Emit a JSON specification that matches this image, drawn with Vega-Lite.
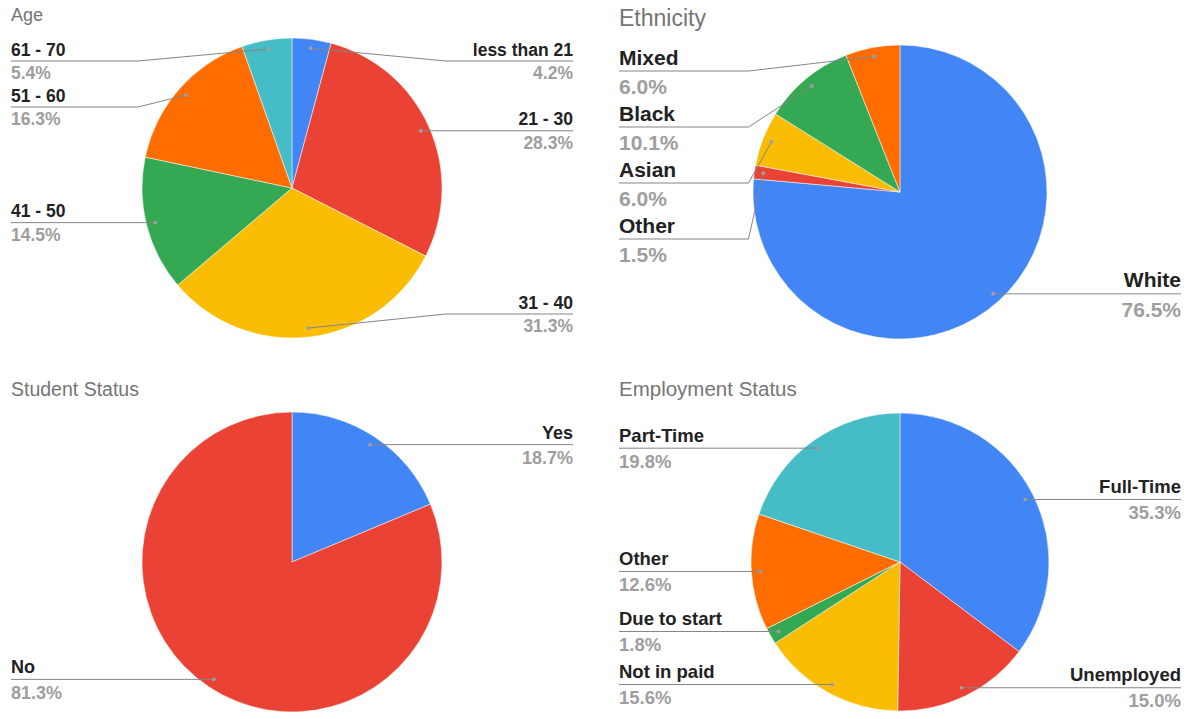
{
  "$schema": "https://vega.github.io/schema/vega-lite/v6.json",
  "padding": {"left": 10, "top": 6, "right": 10, "bottom": 5},
  "background": "#ffffff",
  "config": {
    "view": {"stroke": null},
    "title": {"anchor": "start", "frame": "group", "font": "Liberation Sans", "fontWeight": "normal", "color": "#757575"},
    "text": {"font": "Liberation Sans"}
  },
  "resolve": {"scale": {"color": "independent"}},
  "columns": 2,
  "spacing": {"row": 74, "column": 46},
  "bounds": "flush",
  "concat": [
    {
      "width": 562, "height": 300,
      "title": {"text": "Age", "fontSize": 18, "offset": 12.2},
      "data": {"values": [
        {"label": "less than 21", "value": 4.2},
        {"label": "21 - 30", "value": 28.3},
        {"label": "31 - 40", "value": 31.3},
        {"label": "41 - 50", "value": 14.5},
        {"label": "51 - 60", "value": 16.3},
        {"label": "61 - 70", "value": 5.4}
      ]},
      "transform": [
        {"window": [{"op": "row_number", "as": "idx"}]},
        {"joinaggregate": [{"op": "sum", "field": "value", "as": "total"}]},
        {"window": [{"op": "sum", "field": "value", "as": "cum"}], "sort": [{"field": "idx"}], "frame": [null, 0]},
        {"calculate": "2*PI*(datum.cum - datum.value/2)/datum.total", "as": "mid"},
        {"calculate": "141*sin(datum.mid)", "as": "px"},
        {"calculate": "141*cos(datum.mid)", "as": "py"},
        {"calculate": "datum.mid < PI ? 'right' : 'left'", "as": "side"},
        {"window": [{"op": "row_number", "as": "k"}], "groupby": ["side"], "sort": [{"field": "py", "order": "descending"}]},
        {"calculate": "min(datum.py, 127) + (datum.k - 1)*46", "as": "a"},
        {"window": [{"op": "min", "field": "a", "as": "m"}], "groupby": ["side"], "sort": [{"field": "py", "order": "descending"}], "frame": [null, 0]},
        {"calculate": "max(datum.m - (datum.k - 1)*46, -126)", "as": "ly"},
        {"calculate": "datum.side == 'right' ? 281 : -281", "as": "tx"},
        {"calculate": "datum.side == 'right' ? 154 : -154", "as": "ex"},
        {"calculate": "format(datum.value, '.1f') + '%'", "as": "pct"}
      ],
      "layer": [
        {
          "mark": {"type": "arc", "outerRadius": 150, "stroke": "#ffffff", "strokeWidth": 0.5},
          "encoding": {
            "theta": {"field": "value", "type": "quantitative", "stack": true},
            "order": {"field": "idx", "type": "quantitative"},
            "color": {"field": "label", "type": "nominal", "legend": null,
              "scale": {"domain": ["less than 21", "21 - 30", "31 - 40", "41 - 50", "51 - 60", "61 - 70"],
                        "range": ["#4285f4", "#ea4335", "#fbbc04", "#34a853", "#ff6d01", "#46bdc6"]}},
            "x": {"datum": 0, "type": "quantitative", "scale": {"domain": [-281, 281], "nice": false, "zero": false}, "axis": null},
            "y": {"datum": 0, "type": "quantitative", "scale": {"domain": [-150, 150], "nice": false, "zero": false}, "axis": null}
          }
        },
        {
          "mark": {"type": "rule", "color": "#858585", "strokeWidth": 1},
          "encoding": {
            "x": {"field": "px", "type": "quantitative", "scale": {"domain": [-281, 281], "nice": false, "zero": false}, "axis": null},
            "y": {"field": "py", "type": "quantitative", "scale": {"domain": [-150, 150], "nice": false, "zero": false}, "axis": null},
            "x2": {"field": "ex"},
            "y2": {"field": "ly"}
          }
        },
        {
          "mark": {"type": "rule", "color": "#858585", "strokeWidth": 1},
          "encoding": {
            "x": {"field": "ex", "type": "quantitative", "scale": {"domain": [-281, 281], "nice": false, "zero": false}, "axis": null},
            "x2": {"field": "tx"},
            "y": {"field": "ly", "type": "quantitative", "scale": {"domain": [-150, 150], "nice": false, "zero": false}, "axis": null}
          }
        },
        {
          "mark": {"type": "circle", "size": 14, "color": "#9e9e9e", "opacity": 1},
          "encoding": {
            "x": {"field": "px", "type": "quantitative", "scale": {"domain": [-281, 281], "nice": false, "zero": false}, "axis": null},
            "y": {"field": "py", "type": "quantitative", "scale": {"domain": [-150, 150], "nice": false, "zero": false}, "axis": null}
          }
        },
        {
          "transform": [{"filter": "datum.side == 'left'"}],
          "mark": {"type": "text", "align": "left", "baseline": "alphabetic", "dy": -5.5, "fontSize": 17.5, "fontWeight": "bold", "color": "#222222"},
          "encoding": {
            "x": {"field": "tx", "type": "quantitative", "scale": {"domain": [-281, 281], "nice": false, "zero": false}, "axis": null},
            "y": {"field": "ly", "type": "quantitative", "scale": {"domain": [-150, 150], "nice": false, "zero": false}, "axis": null},
            "text": {"field": "label"}
          }
        },
        {
          "transform": [{"filter": "datum.side == 'right'"}],
          "mark": {"type": "text", "align": "right", "baseline": "alphabetic", "dy": -5.5, "fontSize": 17.5, "fontWeight": "bold", "color": "#222222"},
          "encoding": {
            "x": {"field": "tx", "type": "quantitative", "scale": {"domain": [-281, 281], "nice": false, "zero": false}, "axis": null},
            "y": {"field": "ly", "type": "quantitative", "scale": {"domain": [-150, 150], "nice": false, "zero": false}, "axis": null},
            "text": {"field": "label"}
          }
        },
        {
          "transform": [{"filter": "datum.side == 'left'"}],
          "mark": {"type": "text", "align": "left", "baseline": "alphabetic", "dy": 18.3, "fontSize": 17.5, "fontWeight": "bold", "color": "#9e9e9e"},
          "encoding": {
            "x": {"field": "tx", "type": "quantitative", "scale": {"domain": [-281, 281], "nice": false, "zero": false}, "axis": null},
            "y": {"field": "ly", "type": "quantitative", "scale": {"domain": [-150, 150], "nice": false, "zero": false}, "axis": null},
            "text": {"field": "pct"}
          }
        },
        {
          "transform": [{"filter": "datum.side == 'right'"}],
          "mark": {"type": "text", "align": "right", "baseline": "alphabetic", "dy": 18.3, "fontSize": 17.5, "fontWeight": "bold", "color": "#9e9e9e"},
          "encoding": {
            "x": {"field": "tx", "type": "quantitative", "scale": {"domain": [-281, 281], "nice": false, "zero": false}, "axis": null},
            "y": {"field": "ly", "type": "quantitative", "scale": {"domain": [-150, 150], "nice": false, "zero": false}, "axis": null},
            "text": {"field": "pct"}
          }
        }
      ]
    },
    {
      "width": 562, "height": 300,
      "title": {"text": "Ethnicity", "fontSize": 23, "offset": 7.5},
      "data": {"values": [
        {"label": "White", "value": 76.5},
        {"label": "Other", "value": 1.5},
        {"label": "Asian", "value": 6.0},
        {"label": "Black", "value": 10.1},
        {"label": "Mixed", "value": 6.0}
      ]},
      "transform": [
        {"window": [{"op": "row_number", "as": "idx"}]},
        {"joinaggregate": [{"op": "sum", "field": "value", "as": "total"}]},
        {"window": [{"op": "sum", "field": "value", "as": "cum"}], "sort": [{"field": "idx"}], "frame": [null, 0]},
        {"calculate": "2*PI*(datum.cum - datum.value/2)/datum.total", "as": "mid"},
        {"calculate": "138*sin(datum.mid)", "as": "px"},
        {"calculate": "138*cos(datum.mid)", "as": "py"},
        {"calculate": "datum.mid < PI ? 'right' : 'left'", "as": "side"},
        {"window": [{"op": "row_number", "as": "k"}], "groupby": ["side"], "sort": [{"field": "py", "order": "descending"}]},
        {"calculate": "min(datum.py, 121) + (datum.k - 1)*56", "as": "a"},
        {"window": [{"op": "min", "field": "a", "as": "m"}], "groupby": ["side"], "sort": [{"field": "py", "order": "descending"}], "frame": [null, 0]},
        {"calculate": "max(datum.m - (datum.k - 1)*56, -125)", "as": "ly"},
        {"calculate": "datum.side == 'right' ? 281 : -281", "as": "tx"},
        {"calculate": "datum.side == 'right' ? 151.5 : -151.5", "as": "ex"},
        {"calculate": "format(datum.value, '.1f') + '%'", "as": "pct"}
      ],
      "layer": [
        {
          "mark": {"type": "arc", "outerRadius": 147, "stroke": "#ffffff", "strokeWidth": 0.5},
          "encoding": {
            "theta": {"field": "value", "type": "quantitative", "stack": true},
            "order": {"field": "idx", "type": "quantitative"},
            "color": {"field": "label", "type": "nominal", "legend": null,
              "scale": {"domain": ["White", "Other", "Asian", "Black", "Mixed"],
                        "range": ["#4285f4", "#ea4335", "#fbbc04", "#34a853", "#ff6d01"]}},
            "x": {"datum": 0, "type": "quantitative", "scale": {"domain": [-281, 281], "nice": false, "zero": false}, "axis": null},
            "y": {"datum": 0, "type": "quantitative", "scale": {"domain": [-146, 154], "nice": false, "zero": false}, "axis": null}
          }
        },
        {
          "mark": {"type": "rule", "color": "#858585", "strokeWidth": 1},
          "encoding": {
            "x": {"field": "px", "type": "quantitative", "scale": {"domain": [-281, 281], "nice": false, "zero": false}, "axis": null},
            "y": {"field": "py", "type": "quantitative", "scale": {"domain": [-146, 154], "nice": false, "zero": false}, "axis": null},
            "x2": {"field": "ex"},
            "y2": {"field": "ly"}
          }
        },
        {
          "mark": {"type": "rule", "color": "#858585", "strokeWidth": 1},
          "encoding": {
            "x": {"field": "ex", "type": "quantitative", "scale": {"domain": [-281, 281], "nice": false, "zero": false}, "axis": null},
            "x2": {"field": "tx"},
            "y": {"field": "ly", "type": "quantitative", "scale": {"domain": [-146, 154], "nice": false, "zero": false}, "axis": null}
          }
        },
        {
          "mark": {"type": "circle", "size": 16, "color": "#9e9e9e", "opacity": 1},
          "encoding": {
            "x": {"field": "px", "type": "quantitative", "scale": {"domain": [-281, 281], "nice": false, "zero": false}, "axis": null},
            "y": {"field": "py", "type": "quantitative", "scale": {"domain": [-146, 154], "nice": false, "zero": false}, "axis": null}
          }
        },
        {
          "transform": [{"filter": "datum.side == 'left'"}],
          "mark": {"type": "text", "align": "left", "baseline": "alphabetic", "dy": -6.5, "fontSize": 21, "fontWeight": "bold", "color": "#222222"},
          "encoding": {
            "x": {"field": "tx", "type": "quantitative", "scale": {"domain": [-281, 281], "nice": false, "zero": false}, "axis": null},
            "y": {"field": "ly", "type": "quantitative", "scale": {"domain": [-146, 154], "nice": false, "zero": false}, "axis": null},
            "text": {"field": "label"}
          }
        },
        {
          "transform": [{"filter": "datum.side == 'right'"}],
          "mark": {"type": "text", "align": "right", "baseline": "alphabetic", "dy": -6.5, "fontSize": 21, "fontWeight": "bold", "color": "#222222"},
          "encoding": {
            "x": {"field": "tx", "type": "quantitative", "scale": {"domain": [-281, 281], "nice": false, "zero": false}, "axis": null},
            "y": {"field": "ly", "type": "quantitative", "scale": {"domain": [-146, 154], "nice": false, "zero": false}, "axis": null},
            "text": {"field": "label"}
          }
        },
        {
          "transform": [{"filter": "datum.side == 'left'"}],
          "mark": {"type": "text", "align": "left", "baseline": "alphabetic", "dy": 23.3, "fontSize": 21, "fontWeight": "bold", "color": "#9e9e9e"},
          "encoding": {
            "x": {"field": "tx", "type": "quantitative", "scale": {"domain": [-281, 281], "nice": false, "zero": false}, "axis": null},
            "y": {"field": "ly", "type": "quantitative", "scale": {"domain": [-146, 154], "nice": false, "zero": false}, "axis": null},
            "text": {"field": "pct"}
          }
        },
        {
          "transform": [{"filter": "datum.side == 'right'"}],
          "mark": {"type": "text", "align": "right", "baseline": "alphabetic", "dy": 23.3, "fontSize": 21, "fontWeight": "bold", "color": "#9e9e9e"},
          "encoding": {
            "x": {"field": "tx", "type": "quantitative", "scale": {"domain": [-281, 281], "nice": false, "zero": false}, "axis": null},
            "y": {"field": "ly", "type": "quantitative", "scale": {"domain": [-146, 154], "nice": false, "zero": false}, "axis": null},
            "text": {"field": "pct"}
          }
        }
      ]
    },
    {
      "width": 562, "height": 300,
      "title": {"text": "Student Status", "fontSize": 19.5, "offset": 11},
      "data": {"values": [
        {"label": "Yes", "value": 18.7},
        {"label": "No", "value": 81.3}
      ]},
      "transform": [
        {"window": [{"op": "row_number", "as": "idx"}]},
        {"joinaggregate": [{"op": "sum", "field": "value", "as": "total"}]},
        {"window": [{"op": "sum", "field": "value", "as": "cum"}], "sort": [{"field": "idx"}], "frame": [null, 0]},
        {"calculate": "2*PI*(datum.cum - datum.value/2)/datum.total", "as": "mid"},
        {"calculate": "141*sin(datum.mid)", "as": "px"},
        {"calculate": "141*cos(datum.mid)", "as": "py"},
        {"calculate": "datum.mid < PI ? 'right' : 'left'", "as": "side"},
        {"window": [{"op": "row_number", "as": "k"}], "groupby": ["side"], "sort": [{"field": "py", "order": "descending"}]},
        {"calculate": "min(datum.py, 127) + (datum.k - 1)*47", "as": "a"},
        {"window": [{"op": "min", "field": "a", "as": "m"}], "groupby": ["side"], "sort": [{"field": "py", "order": "descending"}], "frame": [null, 0]},
        {"calculate": "max(datum.m - (datum.k - 1)*47, -126)", "as": "ly"},
        {"calculate": "datum.side == 'right' ? 281 : -281", "as": "tx"},
        {"calculate": "datum.side == 'right' ? 154 : -154", "as": "ex"},
        {"calculate": "format(datum.value, '.1f') + '%'", "as": "pct"}
      ],
      "layer": [
        {
          "mark": {"type": "arc", "outerRadius": 150, "stroke": "#ffffff", "strokeWidth": 0.5},
          "encoding": {
            "theta": {"field": "value", "type": "quantitative", "stack": true},
            "order": {"field": "idx", "type": "quantitative"},
            "color": {"field": "label", "type": "nominal", "legend": null,
              "scale": {"domain": ["Yes", "No"], "range": ["#4285f4", "#ea4335"]}},
            "x": {"datum": 0, "type": "quantitative", "scale": {"domain": [-281, 281], "nice": false, "zero": false}, "axis": null},
            "y": {"datum": 0, "type": "quantitative", "scale": {"domain": [-150, 150], "nice": false, "zero": false}, "axis": null}
          }
        },
        {
          "mark": {"type": "rule", "color": "#858585", "strokeWidth": 1},
          "encoding": {
            "x": {"field": "px", "type": "quantitative", "scale": {"domain": [-281, 281], "nice": false, "zero": false}, "axis": null},
            "y": {"field": "py", "type": "quantitative", "scale": {"domain": [-150, 150], "nice": false, "zero": false}, "axis": null},
            "x2": {"field": "ex"},
            "y2": {"field": "ly"}
          }
        },
        {
          "mark": {"type": "rule", "color": "#858585", "strokeWidth": 1},
          "encoding": {
            "x": {"field": "ex", "type": "quantitative", "scale": {"domain": [-281, 281], "nice": false, "zero": false}, "axis": null},
            "x2": {"field": "tx"},
            "y": {"field": "ly", "type": "quantitative", "scale": {"domain": [-150, 150], "nice": false, "zero": false}, "axis": null}
          }
        },
        {
          "mark": {"type": "circle", "size": 14, "color": "#9e9e9e", "opacity": 1},
          "encoding": {
            "x": {"field": "px", "type": "quantitative", "scale": {"domain": [-281, 281], "nice": false, "zero": false}, "axis": null},
            "y": {"field": "py", "type": "quantitative", "scale": {"domain": [-150, 150], "nice": false, "zero": false}, "axis": null}
          }
        },
        {
          "transform": [{"filter": "datum.side == 'left'"}],
          "mark": {"type": "text", "align": "left", "baseline": "alphabetic", "dy": -6, "fontSize": 18, "fontWeight": "bold", "color": "#222222"},
          "encoding": {
            "x": {"field": "tx", "type": "quantitative", "scale": {"domain": [-281, 281], "nice": false, "zero": false}, "axis": null},
            "y": {"field": "ly", "type": "quantitative", "scale": {"domain": [-150, 150], "nice": false, "zero": false}, "axis": null},
            "text": {"field": "label"}
          }
        },
        {
          "transform": [{"filter": "datum.side == 'right'"}],
          "mark": {"type": "text", "align": "right", "baseline": "alphabetic", "dy": -6, "fontSize": 18, "fontWeight": "bold", "color": "#222222"},
          "encoding": {
            "x": {"field": "tx", "type": "quantitative", "scale": {"domain": [-281, 281], "nice": false, "zero": false}, "axis": null},
            "y": {"field": "ly", "type": "quantitative", "scale": {"domain": [-150, 150], "nice": false, "zero": false}, "axis": null},
            "text": {"field": "label"}
          }
        },
        {
          "transform": [{"filter": "datum.side == 'left'"}],
          "mark": {"type": "text", "align": "left", "baseline": "alphabetic", "dy": 19.5, "fontSize": 18, "fontWeight": "bold", "color": "#9e9e9e"},
          "encoding": {
            "x": {"field": "tx", "type": "quantitative", "scale": {"domain": [-281, 281], "nice": false, "zero": false}, "axis": null},
            "y": {"field": "ly", "type": "quantitative", "scale": {"domain": [-150, 150], "nice": false, "zero": false}, "axis": null},
            "text": {"field": "pct"}
          }
        },
        {
          "transform": [{"filter": "datum.side == 'right'"}],
          "mark": {"type": "text", "align": "right", "baseline": "alphabetic", "dy": 19.5, "fontSize": 18, "fontWeight": "bold", "color": "#9e9e9e"},
          "encoding": {
            "x": {"field": "tx", "type": "quantitative", "scale": {"domain": [-281, 281], "nice": false, "zero": false}, "axis": null},
            "y": {"field": "ly", "type": "quantitative", "scale": {"domain": [-150, 150], "nice": false, "zero": false}, "axis": null},
            "text": {"field": "pct"}
          }
        }
      ]
    },
    {
      "width": 562, "height": 300,
      "title": {"text": "Employment Status", "fontSize": 20.5, "offset": 12},
      "data": {"values": [
        {"label": "Full-Time", "value": 35.3},
        {"label": "Unemployed", "value": 15.0},
        {"label": "Not in paid", "value": 15.6},
        {"label": "Due to start", "value": 1.8},
        {"label": "Other", "value": 12.6},
        {"label": "Part-Time", "value": 19.8}
      ]},
      "transform": [
        {"window": [{"op": "row_number", "as": "idx"}]},
        {"joinaggregate": [{"op": "sum", "field": "value", "as": "total"}]},
        {"window": [{"op": "sum", "field": "value", "as": "cum"}], "sort": [{"field": "idx"}], "frame": [null, 0]},
        {"calculate": "2*PI*(datum.cum - datum.value/2)/datum.total", "as": "mid"},
        {"calculate": "140*sin(datum.mid)", "as": "px"},
        {"calculate": "140*cos(datum.mid)", "as": "py"},
        {"calculate": "datum.mid < PI ? 'right' : 'left'", "as": "side"},
        {"window": [{"op": "row_number", "as": "k"}], "groupby": ["side"], "sort": [{"field": "py", "order": "descending"}]},
        {"calculate": "min(datum.py, 127) + (datum.k - 1)*48.7", "as": "a"},
        {"window": [{"op": "min", "field": "a", "as": "m"}], "groupby": ["side"], "sort": [{"field": "py", "order": "descending"}], "frame": [null, 0]},
        {"calculate": "max(datum.m - (datum.k - 1)*48.7, -132)", "as": "ly"},
        {"calculate": "datum.side == 'right' ? 281 : -281", "as": "tx"},
        {"calculate": "datum.side == 'right' ? 153 : -153", "as": "ex"},
        {"calculate": "format(datum.value, '.1f') + '%'", "as": "pct"}
      ],
      "layer": [
        {
          "mark": {"type": "arc", "outerRadius": 149, "stroke": "#ffffff", "strokeWidth": 0.5},
          "encoding": {
            "theta": {"field": "value", "type": "quantitative", "stack": true},
            "order": {"field": "idx", "type": "quantitative"},
            "color": {"field": "label", "type": "nominal", "legend": null,
              "scale": {"domain": ["Full-Time", "Unemployed", "Not in paid", "Due to start", "Other", "Part-Time"],
                        "range": ["#4285f4", "#ea4335", "#fbbc04", "#34a853", "#ff6d01", "#46bdc6"]}},
            "x": {"datum": 0, "type": "quantitative", "scale": {"domain": [-281, 281], "nice": false, "zero": false}, "axis": null},
            "y": {"datum": 0, "type": "quantitative", "scale": {"domain": [-150, 150], "nice": false, "zero": false}, "axis": null}
          }
        },
        {
          "mark": {"type": "rule", "color": "#858585", "strokeWidth": 1},
          "encoding": {
            "x": {"field": "px", "type": "quantitative", "scale": {"domain": [-281, 281], "nice": false, "zero": false}, "axis": null},
            "y": {"field": "py", "type": "quantitative", "scale": {"domain": [-150, 150], "nice": false, "zero": false}, "axis": null},
            "x2": {"field": "ex"},
            "y2": {"field": "ly"}
          }
        },
        {
          "mark": {"type": "rule", "color": "#858585", "strokeWidth": 1},
          "encoding": {
            "x": {"field": "ex", "type": "quantitative", "scale": {"domain": [-281, 281], "nice": false, "zero": false}, "axis": null},
            "x2": {"field": "tx"},
            "y": {"field": "ly", "type": "quantitative", "scale": {"domain": [-150, 150], "nice": false, "zero": false}, "axis": null}
          }
        },
        {
          "mark": {"type": "circle", "size": 14, "color": "#9e9e9e", "opacity": 1},
          "encoding": {
            "x": {"field": "px", "type": "quantitative", "scale": {"domain": [-281, 281], "nice": false, "zero": false}, "axis": null},
            "y": {"field": "py", "type": "quantitative", "scale": {"domain": [-150, 150], "nice": false, "zero": false}, "axis": null}
          }
        },
        {
          "transform": [{"filter": "datum.side == 'left'"}],
          "mark": {"type": "text", "align": "left", "baseline": "alphabetic", "dy": -6.5, "fontSize": 18.5, "fontWeight": "bold", "color": "#222222"},
          "encoding": {
            "x": {"field": "tx", "type": "quantitative", "scale": {"domain": [-281, 281], "nice": false, "zero": false}, "axis": null},
            "y": {"field": "ly", "type": "quantitative", "scale": {"domain": [-150, 150], "nice": false, "zero": false}, "axis": null},
            "text": {"field": "label"}
          }
        },
        {
          "transform": [{"filter": "datum.side == 'right'"}],
          "mark": {"type": "text", "align": "right", "baseline": "alphabetic", "dy": -6.5, "fontSize": 18.5, "fontWeight": "bold", "color": "#222222"},
          "encoding": {
            "x": {"field": "tx", "type": "quantitative", "scale": {"domain": [-281, 281], "nice": false, "zero": false}, "axis": null},
            "y": {"field": "ly", "type": "quantitative", "scale": {"domain": [-150, 150], "nice": false, "zero": false}, "axis": null},
            "text": {"field": "label"}
          }
        },
        {
          "transform": [{"filter": "datum.side == 'left'"}],
          "mark": {"type": "text", "align": "left", "baseline": "alphabetic", "dy": 19.6, "fontSize": 18.5, "fontWeight": "bold", "color": "#9e9e9e"},
          "encoding": {
            "x": {"field": "tx", "type": "quantitative", "scale": {"domain": [-281, 281], "nice": false, "zero": false}, "axis": null},
            "y": {"field": "ly", "type": "quantitative", "scale": {"domain": [-150, 150], "nice": false, "zero": false}, "axis": null},
            "text": {"field": "pct"}
          }
        },
        {
          "transform": [{"filter": "datum.side == 'right'"}],
          "mark": {"type": "text", "align": "right", "baseline": "alphabetic", "dy": 19.6, "fontSize": 18.5, "fontWeight": "bold", "color": "#9e9e9e"},
          "encoding": {
            "x": {"field": "tx", "type": "quantitative", "scale": {"domain": [-281, 281], "nice": false, "zero": false}, "axis": null},
            "y": {"field": "ly", "type": "quantitative", "scale": {"domain": [-150, 150], "nice": false, "zero": false}, "axis": null},
            "text": {"field": "pct"}
          }
        }
      ]
    }
  ]
}
